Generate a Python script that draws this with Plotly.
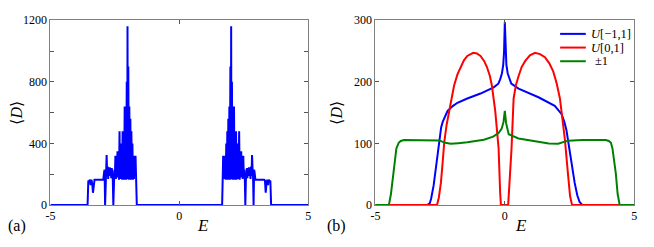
import plotly.graph_objects as go

# ---------------- Panel (a) data ----------------
a_left_E = [-5.0, -3.56, -3.53, -3.50, -3.47, -3.44, -3.41, -3.38, -3.35, -3.32, -3.29, -3.10,
            -2.95, -2.92, -2.90, -2.88, -2.86, -2.84, -2.82, -2.80, -2.78, -2.76, -2.74, -2.72,
            -2.70, -2.68, -2.66, -2.64, -2.62, -2.60, -2.58, -2.56, -2.54, -2.52, -2.50, -2.48,
            -2.46, -2.44, -2.42, -2.40, -2.38, -2.36, -2.34, -2.32, -2.30, -2.28, -2.26, -2.24,
            -2.22, -2.20, -2.18, -2.16, -2.14, -2.12, -2.10, -2.08, -2.06, -2.04, -2.02, -2.01,
            -2.00, -1.98, -1.96, -1.94, -1.92, -1.90, -1.88, -1.86, -1.84, -1.82, -1.80, -1.78,
            -1.76, -1.74, -1.72, -1.70, -1.68, -1.66, -1.65]
a_left_D = [0, 0, 160, 150, 165, 130, 165, 140, 80, 160, 165, 165,
            165, 210, 230, 0, 180, 240, 325, 190, 250, 170, 230, 190,
            245, 200, 230, 175, 240, 200, 160, 0, 170, 230, 190, 320,
            170, 270, 180, 350, 200, 300, 165, 480, 170, 300, 200, 400,
            165, 480, 165, 420, 165, 640, 165, 560, 165, 800, 170, 1160,
            170, 900, 165, 640, 170, 560, 165, 480, 170, 400, 165, 320,
            170, 320, 200, 320, 160, 0, 0]
a_right_E = [1.65, 1.66, 1.68, 1.70, 1.72, 1.74, 1.76, 1.78, 1.80, 1.82, 1.84, 1.86,
             1.88, 1.90, 1.92, 1.94, 1.96, 1.98, 2.00, 2.01, 2.02, 2.04, 2.06, 2.08,
             2.10, 2.12, 2.14, 2.16, 2.18, 2.20, 2.22, 2.24, 2.26, 2.28, 2.30, 2.32,
             2.34, 2.36, 2.38, 2.40, 2.42, 2.44, 2.46, 2.48, 2.50, 2.52, 2.54, 2.56,
             2.58, 2.60, 2.62, 2.64, 2.66, 2.68, 2.70, 2.72, 2.74, 2.76, 2.78, 2.80,
             2.82, 2.84, 2.86, 2.88, 2.90, 2.92, 2.95, 3.10, 3.29, 3.32, 3.35, 3.38,
             3.41, 3.44, 3.47, 3.50, 3.53, 3.56, 5.0]
a_right_D = [0, 0, 160, 320, 200, 320, 170, 320, 165, 400, 170, 480,
             165, 560, 170, 640, 165, 900, 170, 1160, 170, 800, 165, 560,
             165, 640, 165, 420, 165, 480, 165, 400, 200, 300, 170, 480,
             165, 300, 200, 350, 180, 270, 170, 320, 190, 230, 170, 0,
             160, 200, 240, 175, 230, 200, 245, 190, 230, 170, 250, 190,
             325, 240, 180, 0, 230, 210, 165, 165, 165, 160, 80, 140,
             165, 130, 165, 150, 160, 0, 0]

# ---------------- Panel (b) data ----------------
blue_E = [-5, -3.0, -2.9, -2.85, -2.75, -2.66, -2.58, -2.53, -2.46, -2.40, -2.3, -2.21, -2.0,
          -1.83, -1.45, -0.94, -0.43, -0.25, -0.18, -0.11, -0.06, -0.03, 0.0, 0.03, 0.06,
          0.11, 0.18, 0.25, 0.53, 1.0, 1.30, 1.93, 2.19, 2.30, 2.38, 2.51, 2.60, 2.70,
          2.80, 2.89, 3.0, 5]
blue_D = [0, 0, 3, 10, 32, 61, 90, 112, 126, 135, 146, 153, 161,
          166, 173, 181, 191, 197, 204, 214, 228, 248, 297, 248, 228,
          214, 204, 197, 189, 180, 175, 161, 148, 135, 122, 87, 62, 36,
          16, 5, 0, 0]

red_E = [-5, -2.62, -2.55, -2.47, -2.40, -2.34, -2.25, -2.15, -2.05, -1.96, -1.83, -1.71,
         -1.58, -1.45, -1.22, -1.08, -0.94, -0.80, -0.69, -0.58, -0.50, -0.37, -0.30, -0.24,
         -0.18, -0.15, 0.13, 0.18, 0.26, 0.34, 0.43, 0.53, 0.65, 0.79, 0.97, 1.17, 1.36,
         1.55, 1.72, 1.87, 2.0, 2.13, 2.32, 2.44, 2.52, 2.60, 5]
red_D = [0, 0, 12, 36, 70, 102, 130, 153, 176, 194, 212, 224,
         235, 242, 247, 246, 242, 234, 224, 210, 194, 153, 125, 92,
         20, 0, 0, 30, 92, 173, 195, 209, 224, 234, 243, 247, 245,
         240, 230, 217, 198, 173, 107, 51, 15, 0, 0]

green_E = [-5, -4.48, -4.40, -4.31, -4.19, -4.10, -4.02, -3.9, -3.5, -3.0, -2.53, -2.3, -2.09,
           -1.8, -1.45, -0.81, -0.45, -0.24, -0.12, -0.05, 0, 0.05, 0.15, 0.53, 1.30, 1.7,
           2.06, 2.3, 2.44, 3.0, 3.5, 3.9, 4.02, 4.10, 4.16, 4.29, 4.36, 4.44, 5]
green_D = [0, 0, 18, 51, 92, 101, 104, 105.5, 105.5, 105.5, 105, 101, 99.5,
           100.5, 102, 106, 111, 117, 124, 135, 153, 133, 115, 108, 102, 100,
           99.5, 102, 104.6, 105.5, 105.5, 105.5, 104, 101, 92, 51, 18, 0, 0]

series_names = ["<i>U</i>[−1,1]", "<i>U</i>[0,1]", "±1"]
series_colors = ["#0000ff", "#ff0000", "#008000"]

a_xticks = [-5, 0, 5]
a_xticktext = ["-5", "0", "5"]
a_yticks = [0, 200, 400, 600, 800, 1000, 1200]
a_yticktext = ["0", "", "400", "", "800", "", "1200"]
b_yticks = [0, 100, 200, 300]
b_yticktext = ["0", "100", "200", "300"]

W, H = 654, 247
FONT = "Liberation Serif"

fig = go.Figure()
fig.add_trace(go.Scatter(x=a_left_E + a_right_E, y=a_left_D + a_right_D, mode="lines",
                         line=dict(color="#0000ff", width=2), xaxis="x", yaxis="y",
                         showlegend=False))
for E, D, nm, col in [(blue_E, blue_D, series_names[0], series_colors[0]),
                      (red_E, red_D, series_names[1], series_colors[1]),
                      (green_E, green_D, series_names[2], series_colors[2])]:
    fig.add_trace(go.Scatter(x=E, y=D, mode="lines", name=nm,
                             line=dict(color=col, width=2), xaxis="x2", yaxis="y2",
                             showlegend=False))

def px_x(p):
    return p / W

def px_y(p):
    return 1 - p / H

ydom = [px_y(210), px_y(14)]
axis_common = dict(ticks="inside", ticklen=4, tickcolor="#555555", showline=True,
                   linecolor="#808080", linewidth=1, mirror="ticks", showgrid=False,
                   zeroline=False, tickfont=dict(family=FONT, size=12, color="black"))

fig.update_layout(
    width=W, height=H, margin=dict(l=0, r=0, t=0, b=0),
    paper_bgcolor="white", plot_bgcolor="white", showlegend=False,
    font=dict(family=FONT),
    xaxis=dict(domain=[px_x(46), px_x(307)], range=[-5, 5], tickvals=a_xticks,
               ticktext=a_xticktext, anchor="y", **axis_common),
    yaxis=dict(domain=ydom, range=[0, 1200], tickvals=a_yticks, ticktext=a_yticktext,
               anchor="x", **axis_common),
    xaxis2=dict(domain=[px_x(375), px_x(637)], range=[-5, 5], tickvals=a_xticks,
                ticktext=a_xticktext, anchor="y2", **axis_common),
    yaxis2=dict(domain=ydom, range=[0, 300], tickvals=b_yticks, ticktext=b_yticktext,
                anchor="x2", **axis_common),
)

ann = []
def text(x, y, s, size, angle=0, xanchor="center"):
    ann.append(dict(x=px_x(x), y=px_y(y), xref="paper", yref="paper", text=s,
                    showarrow=False, textangle=angle, xanchor=xanchor, yanchor="middle",
                    font=dict(family=FONT, size=size, color="black")))

text(12, 232, "(a)", 16)
text(335.5, 232, "(b)", 16)
text(200, 232, "<i>E</i>", 17)
text(522, 232, "<i>E</i>", 17)
text(12, 112, "⟨<i>D</i>⟩", 16, angle=-90)
text(336, 112, "⟨<i>D</i>⟩", 16, angle=-90)

shapes = []
rows = [28.5, 43, 57.5]
for i, (nm, col) in enumerate(zip(series_names, series_colors)):
    shapes.append(dict(type="line", xref="paper", yref="paper", x0=px_x(562), x1=px_x(588),
                       y0=px_y(rows[i]), y1=px_y(rows[i]), line=dict(color=col, width=2)))
    text(591.5 if i < 2 else 595, rows[i], nm, 12.5, xanchor="left")

fig.update_layout(annotations=ann, shapes=shapes)
fig.write_html("out.html", config={"displayModeBar": False},
               post_script="document.body.style.margin='0';document.body.style.overflow='hidden';")
